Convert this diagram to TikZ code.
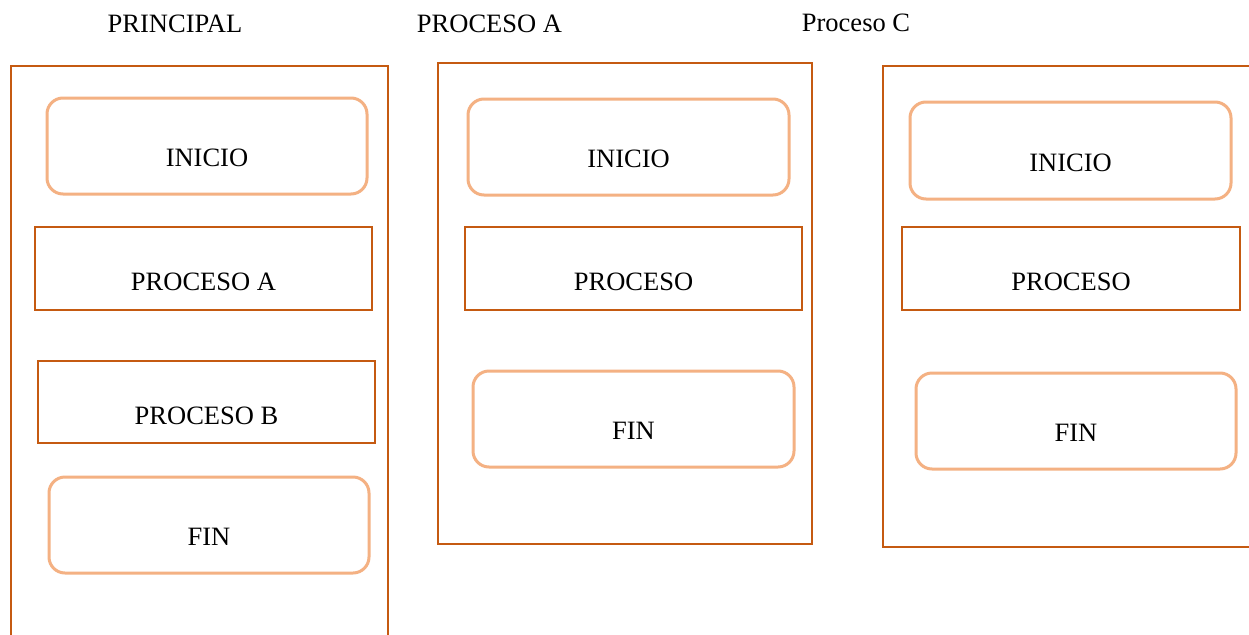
\documentclass[tikz,border=0pt]{standalone}
\usepackage{fontspec}
\setmainfont{Liberation Serif}
\definecolor{frameorange}{HTML}{C55A11}
\definecolor{softorange}{HTML}{F4B183}
\begin{document}
\begin{tikzpicture}[x=1pt,y=-1pt,
  every node/.style={font=\fontsize{26.5}{30}\selectfont, inner sep=0pt, outer sep=0pt},
  panel/.style={draw=frameorange, line width=2.7pt, rectangle, anchor=north west},
  procbox/.style={draw=frameorange, line width=2.5pt, rectangle, anchor=north west,
    text height=44pt, text depth=0pt},
  termbox/.style={draw=softorange, line width=3pt, rectangle, rounded corners=16pt,
    anchor=north west, text height=41pt, text depth=0pt},
  heading/.style={anchor=base}]
\useasboundingbox (0,0) rectangle (1249,634);
\clip (0,0) rectangle (1249,634);
\fill[white] (0,0) rectangle (1249,634);

% column headings
\node[heading] (h1) at (175,33) {PRINCIPAL};
\node[heading] (h2) at (489.5,33) {PROCESO A};
\node[heading] (h3) at (856,32) {Proceso C};

% outer panels
\node[panel, minimum width=377pt, minimum height=600pt] (p1) at (11,66) {};
\node[panel, minimum width=374pt, minimum height=481pt] (p2) at (438,63) {};
\node[panel, minimum width=380pt, minimum height=481pt] (p3) at (883,66) {};

% PRINCIPAL
\node[termbox, minimum width=320pt, minimum height=96pt] (p1ini) at (47,98) {INICIO};
\node[procbox, minimum width=337pt, minimum height=83pt] (p1pa) at (35,227) {PROCESO A};
\node[procbox, minimum width=337pt, minimum height=82pt] (p1pb) at (38,361) {PROCESO B};
\node[termbox, minimum width=320pt, minimum height=96pt] (p1fin) at (49,477) {FIN};

% PROCESO A
\node[termbox, minimum width=321pt, minimum height=96pt] (p2ini) at (468,99) {INICIO};
\node[procbox, minimum width=337pt, minimum height=83pt] (p2pr) at (465,227) {PROCESO};
\node[termbox, minimum width=321pt, minimum height=96pt] (p2fin) at (473,371) {FIN};

% Proceso C
\node[termbox, minimum width=321pt, minimum height=97pt] (p3ini) at (910,102) {INICIO};
\node[procbox, minimum width=338pt, minimum height=83pt] (p3pr) at (902,227) {PROCESO};
\node[termbox, minimum width=320pt, minimum height=96pt] (p3fin) at (916,373) {FIN};
\end{tikzpicture}
\end{document}
